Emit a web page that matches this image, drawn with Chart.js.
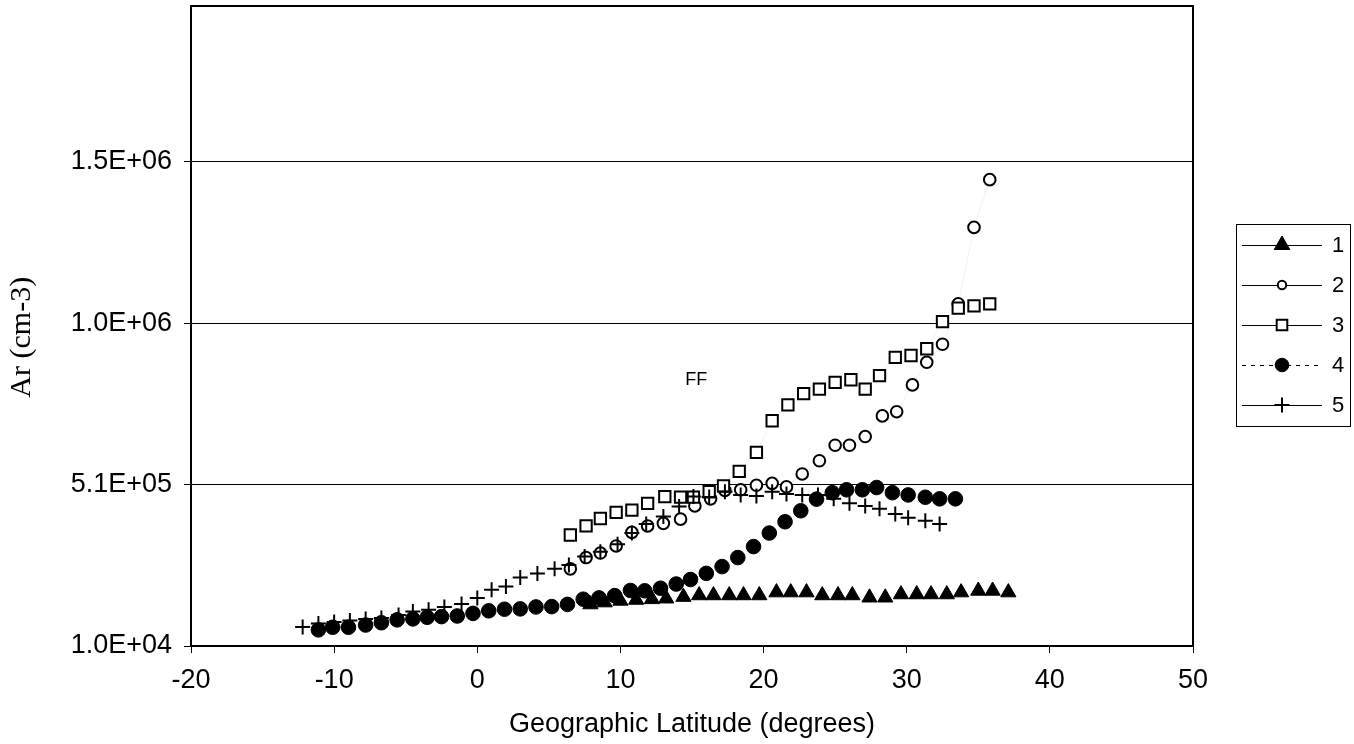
<!DOCTYPE html>
<html lang="en">
<head>
    <meta charset="UTF-8">
    <title>Ar vs Geographic Latitude</title>
    <script src="https://cdn.jsdelivr.net/npm/chart.js"></script>
    <style>
        html, body { margin: 0; padding: 0; background: #fff; }
        #wrap { width: 1354px; height: 744px; }
    </style>
</head>
<body>
    <div id="wrap"><canvas id="arChart" width="1354" height="744"></canvas></div>
    <script>
        // latitudes (degrees) and Ar densities (cm-3)
        const lat1 = [7.9, 8.9, 10.0, 11.1, 12.2, 13.2, 14.4, 15.5, 16.5, 17.6, 18.6, 19.7, 20.9, 21.9, 23.0, 24.1, 25.2, 26.2, 27.4, 28.5, 29.6, 30.7, 31.7, 32.8, 33.8, 35.0, 36.0, 37.1];
        const ar1 = [139000, 145000, 150000, 153000, 155000, 157000, 162000, 167000, 167000, 167000, 167000, 167000, 176000, 176000, 176000, 167000, 167000, 167000, 160000, 160000, 170000, 170000, 170000, 170000, 176000, 181000, 181000, 176000];

        const lat2 = [6.5, 7.6, 8.6, 9.7, 10.8, 11.9, 13.0, 14.2, 15.2, 16.3, 17.3, 18.4, 19.5, 20.6, 21.6, 22.7, 23.9, 25.0, 26.0, 27.1, 28.3, 29.3, 30.4, 31.4, 32.5, 33.6, 34.7, 35.8];
        const ar2 = [249000, 284000, 298000, 320000, 362000, 382000, 390000, 403000, 444000, 466000, 492000, 494000, 508000, 514000, 503000, 543000, 584000, 632000, 632000, 659000, 723000, 736000, 819000, 889000, 945000, 1070000, 1307000, 1455000];

        const lat3 = [6.5, 7.6, 8.6, 9.7, 10.8, 11.9, 13.1, 14.2, 15.1, 16.2, 17.2, 18.3, 19.5, 20.6, 21.7, 22.8, 23.9, 25.0, 26.1, 27.1, 28.1, 29.2, 30.3, 31.4, 32.5, 33.6, 34.7, 35.8];
        const ar3 = [354000, 382000, 405000, 424000, 431000, 452000, 473000, 471000, 471000, 488000, 506000, 551000, 610000, 708000, 757000, 792000, 806000, 827000, 835000, 806000, 848000, 904000, 910000, 931000, 1015000, 1057000, 1064000, 1070000];

        const lat4 = [-11.1, -10.1, -9.0, -7.8, -6.7, -5.6, -4.5, -3.5, -2.5, -1.4, -0.3, 0.8, 1.9, 3.0, 4.1, 5.2, 6.3, 7.4, 8.5, 9.6, 10.7, 11.7, 12.8, 13.9, 14.9, 16.0, 17.1, 18.2, 19.3, 20.4, 21.5, 22.6, 23.7, 24.8, 25.8, 26.9, 27.9, 29.0, 30.1, 31.3, 32.3, 33.4];
        const ar4 = [60000, 68000, 68000, 75000, 82000, 91000, 94000, 99000, 101000, 103000, 111000, 119000, 124000, 125000, 131000, 132000, 139000, 155000, 159000, 166000, 182000, 181000, 189000, 202000, 216000, 235000, 256000, 284000, 318000, 360000, 395000, 429000, 465000, 485000, 494000, 494000, 501000, 485000, 478000, 471000, 466000, 466000];

        const lat5 = [-12.2, -11.1, -10.0, -8.9, -7.8, -6.7, -5.5, -4.5, -3.4, -2.3, -1.1, 0.0, 1.0, 2.0, 3.0, 4.2, 5.4, 6.4, 7.5, 8.6, 9.8, 10.8, 11.8, 13.0, 14.1, 15.1, 16.2, 17.3, 18.4, 19.5, 20.6, 21.6, 22.7, 23.8, 24.9, 26.0, 27.1, 28.1, 29.2, 30.1, 31.3, 32.3];
        const ar5 = [69000, 80000, 84000, 89000, 94000, 97000, 106000, 117000, 122000, 131000, 140000, 159000, 184000, 194000, 222000, 235000, 249000, 261000, 287000, 302000, 325000, 360000, 388000, 411000, 442000, 473000, 472000, 488000, 478000, 475000, 488000, 481000, 478000, 478000, 466000, 452000, 444000, 435000, 419000, 407000, 398000, 388000];

        const seriesNames = ['1', '2', '3', '4', '5'];
        const yTicks = [10000, 510000, 1010000, 1510000];
        const xTicks = [-20, -10, 0, 10, 20, 30, 40, 50];
        const note = { x: 15.3, y: 835000, text: 'FF' };

        const sans = "'Liberation Sans', Arial, sans-serif";
        const serif = "'Liberation Serif', 'Times New Roman', serif";

        // marker look per series
        const markers = [
            { style: 'triangle', radius: 8.8, fill: '#000', width: 1 },
            { style: 'circle', radius: 5.8, fill: '#fff', width: 2 },
            { style: 'rect', radius: 8, fill: '#fff', width: 2 },
            { style: 'circle', radius: 7.3, fill: '#000', width: 1 },
            { style: 'cross', radius: 7.5, fill: '#000', width: 2 }
        ];
        const legendMarkers = [
            { style: 'triangle', radius: 9, fill: '#000', width: 1 },
            { style: 'circle', radius: 4.2, fill: '#fff', width: 2 },
            { style: 'rect', radius: 7.5, fill: '#fff', width: 2 },
            { style: 'circle', radius: 6.8, fill: '#000', width: 1 },
            { style: 'cross', radius: 7.5, fill: '#000', width: 2 }
        ];

        function toPoints(xs, ys) {
            return xs.map((x, i) => ({ x: x, y: ys[i] }));
        }

        function sciLabel(v) {
            const parts = Number(v).toExponential(1).split('e');
            const e = parseInt(parts[1], 10);
            const sign = e < 0 ? '-' : '+';
            return parts[0] + 'E' + sign + String(Math.abs(e)).padStart(2, '0');
        }

        const lats = [lat1, lat2, lat3, lat4, lat5];
        const ars = [ar1, ar2, ar3, ar4, ar5];

        const datasets = seriesNames.map((name, i) => ({
            label: name,
            data: toPoints(lats[i], ars[i]),
            showLine: true,
            borderColor: 'rgba(0,0,0,0.06)',
            borderWidth: 1,
            borderDash: i === 3 ? [4, 4] : [],
            pointStyle: markers[i].style,
            pointRadius: markers[i].radius,
            pointHoverRadius: markers[i].radius,
            pointBackgroundColor: markers[i].fill,
            pointBorderColor: '#000',
            pointBorderWidth: markers[i].width,
            order: 5 - i
        }));

        // small marker painter for the legend box
        function paintMarker(ctx, m, x, y) {
            ctx.save();
            ctx.lineWidth = m.width;
            ctx.strokeStyle = '#000';
            ctx.fillStyle = m.fill;
            ctx.beginPath();
            const r = m.radius;
            if (m.style === 'triangle') {
                ctx.moveTo(x, y - r);
                ctx.lineTo(x + r * 0.866, y + r / 2);
                ctx.lineTo(x - r * 0.866, y + r / 2);
                ctx.closePath();
                ctx.fill(); ctx.stroke();
            } else if (m.style === 'circle') {
                ctx.arc(x, y, r, 0, Math.PI * 2);
                ctx.fill(); ctx.stroke();
            } else if (m.style === 'rect') {
                const s = r * Math.SQRT1_2;
                ctx.rect(x - s, y - s, 2 * s, 2 * s);
                ctx.fill(); ctx.stroke();
            } else {
                ctx.moveTo(x - r, y); ctx.lineTo(x + r, y);
                ctx.moveTo(x, y - r); ctx.lineTo(x, y + r);
                ctx.stroke();
            }
            ctx.restore();
        }

        const framePlugin = {
            id: 'frame',
            afterDraw(chart) {
                const ctx = chart.ctx;
                const a = chart.chartArea;
                ctx.save();
                ctx.strokeStyle = '#000';
                ctx.lineWidth = 2;
                ctx.strokeRect(a.left, a.top, a.right - a.left, a.bottom - a.top);

                // annotation text
                const px = chart.scales.x.getPixelForValue(note.x);
                const py = chart.scales.y.getPixelForValue(note.y);
                ctx.fillStyle = '#000';
                ctx.font = '18px ' + sans;
                ctx.textAlign = 'center';
                ctx.textBaseline = 'middle';
                ctx.fillText(note.text, px, py);

                // legend box
                const bx = 1236, by = 224, bw = 114, bh = 202;
                ctx.lineWidth = 1;
                ctx.strokeRect(bx + 0.5, by + 0.5, bw, bh);
                ctx.font = '22px ' + sans;
                ctx.textAlign = 'left';
                seriesNames.forEach((name, i) => {
                    const ry = 245 + i * 40;
                    ctx.save();
                    ctx.strokeStyle = '#000';
                    ctx.lineWidth = 1;
                    if (i === 3) ctx.setLineDash([4, 5]);
                    ctx.beginPath();
                    ctx.moveTo(1242, ry + 0.5);
                    ctx.lineTo(1322, ry + 0.5);
                    ctx.stroke();
                    ctx.restore();
                    paintMarker(ctx, legendMarkers[i], 1282, ry);
                    ctx.fillText(name, 1332, ry + 1);
                });
                ctx.restore();
            }
        };

        new Chart(document.getElementById('arChart'), {
            type: 'scatter',
            data: { datasets: datasets },
            options: {
                responsive: false,
                animation: false,
                events: [],
                layout: { autoPadding: false, padding: { left: 0, right: 161, top: 6, bottom: 0 } },
                plugins: {
                    legend: { display: false },
                    tooltip: { enabled: false }
                },
                scales: {
                    x: {
                        type: 'linear',
                        min: -20,
                        max: 50,
                        afterBuildTicks: s => { s.ticks = xTicks.map(v => ({ value: v })); },
                        afterFit: s => { s.height = 98; s.paddingLeft = 0; s.paddingRight = 0; },
                        border: { display: false },
                        grid: { drawOnChartArea: false, drawTicks: true, tickLength: 7, color: '#000', lineWidth: 1 },
                        ticks: { color: '#000', padding: 11, maxRotation: 0, font: { family: sans, size: 27 } },
                        title: { display: true, text: 'Geographic Latitude (degrees)', color: '#000', padding: { top: 0, bottom: 3 }, font: { family: sans, size: 27 } }
                    },
                    y: {
                        type: 'linear',
                        min: 10000,
                        max: 1993000,
                        afterBuildTicks: s => { s.ticks = yTicks.map(v => ({ value: v })); },
                        afterFit: s => { s.width = 191; s.paddingTop = 0; s.paddingBottom = 0; },
                        border: { display: false },
                        grid: { drawTicks: true, tickLength: 7, color: '#000', lineWidth: 1 },
                        ticks: { color: '#000', padding: 12, font: { family: sans, size: 27 }, callback: v => sciLabel(v) },
                        title: { display: true, text: 'Ar (cm-3)   ', color: '#000', padding: { top: 4, bottom: 0 }, font: { family: serif, size: 30 } }
                    }
                }
            },
            plugins: [framePlugin]
        });
    </script>
</body>
</html>
